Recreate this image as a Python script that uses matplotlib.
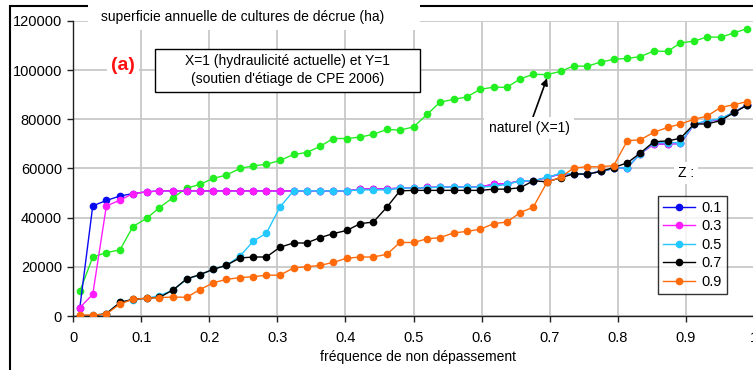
import matplotlib
matplotlib.use('Agg')
import matplotlib.pyplot as plt
from matplotlib.patches import Rectangle

plt.rcParams.update({
    'font.family': ['Liberation Sans', 'DejaVu Sans'],
    'font.size': 10,
})

W, H = 753, 370

# fréquence de non dépassement (rang des années)
freq = [0.010, 0.029, 0.049, 0.069, 0.088, 0.108, 0.127, 0.147, 0.167, 0.186,
        0.206, 0.225, 0.245, 0.265, 0.284, 0.304, 0.324, 0.343, 0.363, 0.382,
        0.402, 0.422, 0.441, 0.461, 0.480, 0.500, 0.520, 0.539, 0.559, 0.578,
        0.598, 0.618, 0.637, 0.657, 0.676, 0.696, 0.716, 0.735, 0.755, 0.775,
        0.794, 0.814, 0.833, 0.853, 0.873, 0.892, 0.912, 0.931, 0.951, 0.971,
        0.990]

# régime naturel (X=1)
naturel = [10000, 24000, 25800, 26900, 36400, 39700, 44100, 48200, 52000, 53500,
           56000, 57300, 60000, 61100, 61700, 63300, 65700, 66500, 69000, 72200,
           72200, 72800, 73900, 75900, 75600, 76900, 82000, 87000, 88100, 89100,
           92200, 93100, 93000, 96500, 98300, 98200, 99500, 101700, 101600, 103300,
           104400, 104800, 105500, 107800, 107600, 111100, 111800, 113500, 113400, 115200,
           116900]

z01 = [3300, 44800, 47000, 48800, 49800, 50500, 50900, 50900, 50900, 50900,
       50900, 50900, 50900, 50900, 50900, 50900, 50900, 50900, 50900, 50900,
       50900, 51600, 51700, 51700, 52000, 52000, 52300, 52400, 52400, 52400,
       52400, 53700, 53800, 55000, 55000, 56300, 57800, 57800, 57800, 58800,
       60000, 60400, 66000, 70000, 70000, 70200, 78000, 79200, 80000, 83000,
       85800]

z03 = [3400, 8800, 44800, 47100, 49800, 50500, 50900, 50900, 50900, 50900,
       50900, 50900, 50900, 50900, 50900, 50900, 50900, 50900, 50900, 50900,
       50900, 51600, 51700, 51700, 52000, 52000, 52300, 52400, 52400, 52400,
       52400, 53700, 53800, 55000, 55000, 56300, 57800, 57800, 57800, 58800,
       60000, 60400, 66000, 70000, 70000, 70200, 78000, 79200, 80000, 83000,
       85800]

z05 = [200, 300, 1000, 5500, 6700, 7200, 8300, 10500, 15000, 16700,
       19000, 20600, 24300, 30500, 33700, 44400, 50900, 50900, 50900, 50900,
       50900, 51300, 51300, 51300, 52000, 52000, 52200, 52400, 52400, 52400,
       52400, 52800, 53500, 55000, 55000, 56400, 58000, 57800, 57800, 58800,
       60000, 60400, 66000, 70500, 70500, 70500, 78100, 79400, 80200, 83000,
       85800]

z07 = [0, 0, 1000, 5500, 6800, 7200, 7600, 10600, 15100, 16800,
       19000, 20600, 23600, 24000, 24000, 28000, 29700, 29700, 31900, 33500,
       34800, 37600, 38200, 44300, 50900, 51100, 51100, 51100, 51100, 51100,
       51100, 51600, 51600, 52200, 55000, 54600, 56200, 57800, 57700, 58800,
       60400, 62300, 66300, 70900, 71200, 72300, 78100, 78100, 79500, 82800,
       85800]

z09 = [400, 400, 800, 4900, 6800, 7200, 7500, 7700, 7600, 10700,
       13500, 14900, 15600, 16000, 16600, 16600, 19600, 20000, 20600, 21800,
       23500, 24000, 24000, 25100, 29900, 29900, 31400, 31900, 33800, 34400,
       35300, 37600, 38200, 42100, 44300, 54400, 56400, 60200, 60700, 60700,
       61200, 71300, 71700, 74700, 76700, 78100, 80000, 81300, 84800, 86000,
       87200]

z_labels = ['0.1', '0.3', '0.5', '0.7', '0.9']
z_series = [z01, z03, z05, z07, z09]
z_colors = ['#0a0af0', '#ff1cff', '#22c8ff', '#000000', '#ff6a0a']
green = '#22ee22'

x_ticks = [0, 0.1, 0.2, 0.3, 0.4, 0.5, 0.6, 0.7, 0.8, 0.9, 1]
x_ticklabels = ['0', '0.1', '0.2', '0.3', '0.4', '0.5', '0.6', '0.7', '0.8', '0.9', '1']
y_ticks = [0, 20000, 40000, 60000, 80000, 100000, 120000]


def fx(px):
    return px / W


def fy(py):
    return 1 - py / H


fig = plt.figure(figsize=(W / 100, H / 100), dpi=100)
ax = fig.add_axes([fx(73), fy(316), fx(754) - fx(73), fy(21) - fy(316)])

ax.plot(freq, naturel, '-o', color=green, lw=1.0, ms=4.5, zorder=3)
for ys, c, lab in zip(z_series, z_colors, z_labels):
    ax.plot(freq, ys, '-o', color=c, lw=1.0, ms=4.5, label=lab, zorder=3)

ax.set_xlim(0, 1)
ax.set_ylim(0, 120000)
ax.set_xticks(x_ticks)
ax.set_xticklabels(x_ticklabels)
ax.set_yticks(y_ticks)
ax.set_yticklabels([str(v) for v in y_ticks])
ax.grid(True, color='#c8c8c8', lw=1.3)
ax.set_axisbelow(True)
for s in ['top', 'right']:
    ax.spines[s].set_visible(False)
for s in ['left', 'bottom']:
    ax.spines[s].set_color('#202020')
    ax.spines[s].set_linewidth(1.0)
ax.tick_params(axis='both', length=4, width=1, color='#202020', labelsize=10.5)
ax.tick_params(axis='x', pad=7)
ax.tick_params(axis='y', pad=4)
ax.set_xlabel('fréquence de non dépassement', fontsize=10)
ax.xaxis.set_label_coords((418 - 73) / (754 - 73), -0.115)

# cadre général
fig.add_artist(Rectangle((fx(10), -0.2), 1.2, fy(6) + 0.2, transform=fig.transFigure,
                         fill=False, ec='black', lw=1.5, zorder=1))
# fond blanc du titre
fig.add_artist(Rectangle((fx(88), fy(30)), fx(420) - fx(88), fy(2) - fy(30),
                         transform=fig.transFigure, fc='white', ec='none', zorder=2))
fig.text(fx(101), fy(17), 'superficie annuelle de cultures de décrue (ha)',
         ha='left', va='center', fontsize=10, zorder=3)

# encadré du scénario
fig.add_artist(Rectangle((fx(155), fy(92)), fx(420) - fx(155), fy(49) - fy(92),
                         transform=fig.transFigure, fc='white', ec='black', lw=1.0, zorder=2))
fig.text(fx(287.5), fy(60.5), 'X=1 (hydraulicité actuelle) et Y=1',
         ha='center', va='center', fontsize=10, zorder=3)
fig.text(fx(287.5), fy(79.5), "(soutien d'étiage de CPE 2006)",
         ha='center', va='center', fontsize=10, zorder=3)

fig.text(fx(123), fy(66), '(a)', color='#ff1010', fontweight='bold', fontsize=14,
         ha='center', va='center', zorder=3,
         bbox=dict(fc='white', ec='none', pad=3))

ax.annotate('naturel (X=1)', xy=(freq[35], naturel[35] - 1500), xycoords='data',
            xytext=(fx(529), fy(128)), textcoords='figure fraction',
            ha='center', va='center', fontsize=10,
            bbox=dict(fc='white', ec='none', pad=3),
            arrowprops=dict(arrowstyle='-|>', color='black', lw=1.2,
                            mutation_scale=10, shrinkA=0, shrinkB=0),
            zorder=4)

fig.text(fx(686), fy(173), 'Z :', ha='center', va='center', fontsize=10,
         bbox=dict(fc='white', ec='none', pad=3), zorder=3)

leg = ax.legend(loc='upper left', bbox_to_anchor=(fx(658), fy(196)),
                bbox_transform=fig.transFigure, fontsize=10.5, frameon=True,
                fancybox=False, borderaxespad=0, handlelength=2.2,
                handletextpad=0.4, labelspacing=0.3, borderpad=0.35)
leg.get_frame().set_edgecolor('black')
leg.get_frame().set_linewidth(1.0)
leg.set_zorder(5)

fig.savefig('out.png', dpi=100)
